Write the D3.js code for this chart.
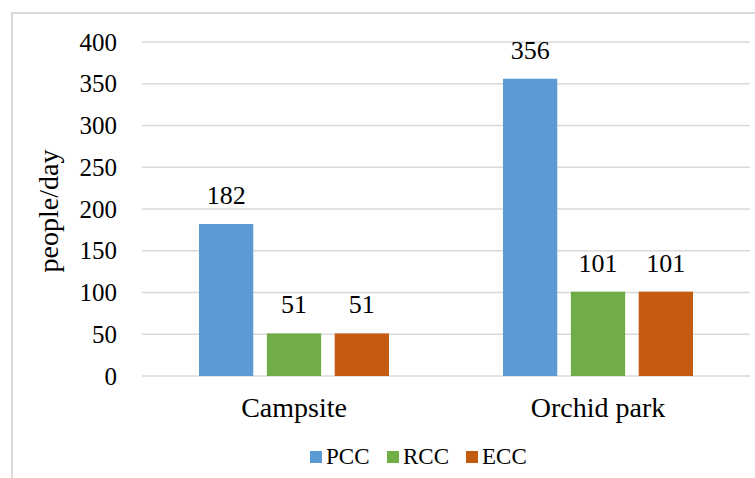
<!DOCTYPE html>
<html><head><meta charset="utf-8">
<script src="https://cdn.jsdelivr.net/npm/d3@7/dist/d3.min.js"></script>
<style>body{margin:0;background:#fff}svg{display:block}
svg text{font-family:"Liberation Serif","Times New Roman",Times,"DejaVu Serif",serif !important;}</style>
</head><body>
<script>
const categories = ["Campsite", "Orchid park"];
const seriesNames = ["PCC", "RCC", "ECC"];
const PCC = [182, 356];
const RCC = [51, 101];
const ECC = [51, 101];
const yTicks = [0, 50, 100, 150, 200, 250, 300, 350, 400];
const colors = ["#5B9BD5", "#70AD47", "#C55A11"];
const values = [PCC, RCC, ECC];

const W = 755, H = 478;
const svg = d3.select("body").append("svg").attr("width", W).attr("height", H);

svg.append("rect").attr("x", 12).attr("y", 13).attr("width", W + 20).attr("height", H + 20)
  .attr("fill", "#fff").attr("stroke", "#d9d9d9").attr("stroke-width", 2);

const pLeft = 142, pRight = 750, pTop = 42, pBottom = 376;
const y = d3.scaleLinear().domain([0, 400]).range([pBottom, pTop]);
const x0 = d3.scaleBand().domain(categories).range([pLeft, pRight]).paddingInner(0).paddingOuter(0);
const x1 = d3.scaleBand().domain(seriesNames).range([0, 190]).paddingInner(0.2).paddingOuter(0);

// gridlines
svg.append("g").selectAll("line").data(yTicks).join("line")
  .attr("x1", pLeft).attr("x2", pRight)
  .attr("y1", d => y(d)).attr("y2", d => y(d))
  .attr("stroke", "#d9d9d9").attr("stroke-width", 1.5);

// y axis labels
const yAxis = d3.axisLeft(y).tickValues(yTicks).tickSize(0).tickPadding(0);
const gy = svg.append("g").attr("transform", `translate(117,0)`).call(yAxis);
gy.select(".domain").remove();
gy.selectAll("text").attr("font-size", 25).attr("fill", "#000");

// bars
const groups = svg.append("g").selectAll("g").data(categories).join("g")
  .attr("transform", c => `translate(${x0(c) + (x0.bandwidth() - 190) / 2},0)`);
groups.each(function(c, ci) {
  const g = d3.select(this);
  seriesNames.forEach((s, si) => {
    const v = values[si][ci];
    g.append("rect").attr("x", x1(s)).attr("width", x1.bandwidth())
      .attr("y", y(v)).attr("height", y(0) - y(v)).attr("fill", colors[si]);
    g.append("text").attr("x", x1(s) + x1.bandwidth() / 2).attr("y", y(v) - 20)
      .attr("text-anchor", "middle").attr("font-size", 26)
      .attr("fill", "#000").text(v);
  });
});

// category axis
const xAxis = d3.axisBottom(x0).tickSize(0).tickPadding(0);
const gx = svg.append("g").attr("transform", `translate(0,${pBottom})`).call(xAxis);
gx.select(".domain").remove();
gx.selectAll("text").attr("font-size", 28).attr("fill", "#000")
  .attr("dy", null).attr("y", 41);

// y title
svg.append("text").attr("transform", `translate(58,211) rotate(-90)`)
  .attr("text-anchor", "middle").attr("font-size", 28)
  .attr("fill", "#000").text("people/day");

// legend
const legX = [310, 387, 466];
const leg = svg.append("g").selectAll("g").data(seriesNames).join("g")
  .attr("transform", (d, i) => `translate(${legX[i]},451)`);
leg.append("rect").attr("width", 12).attr("height", 12).attr("fill", (d, i) => colors[i]);
leg.append("text").attr("x", 16).attr("y", 13).attr("font-size", 23)
  .attr("fill", "#000").text(d => d);
</script>
</body></html>
